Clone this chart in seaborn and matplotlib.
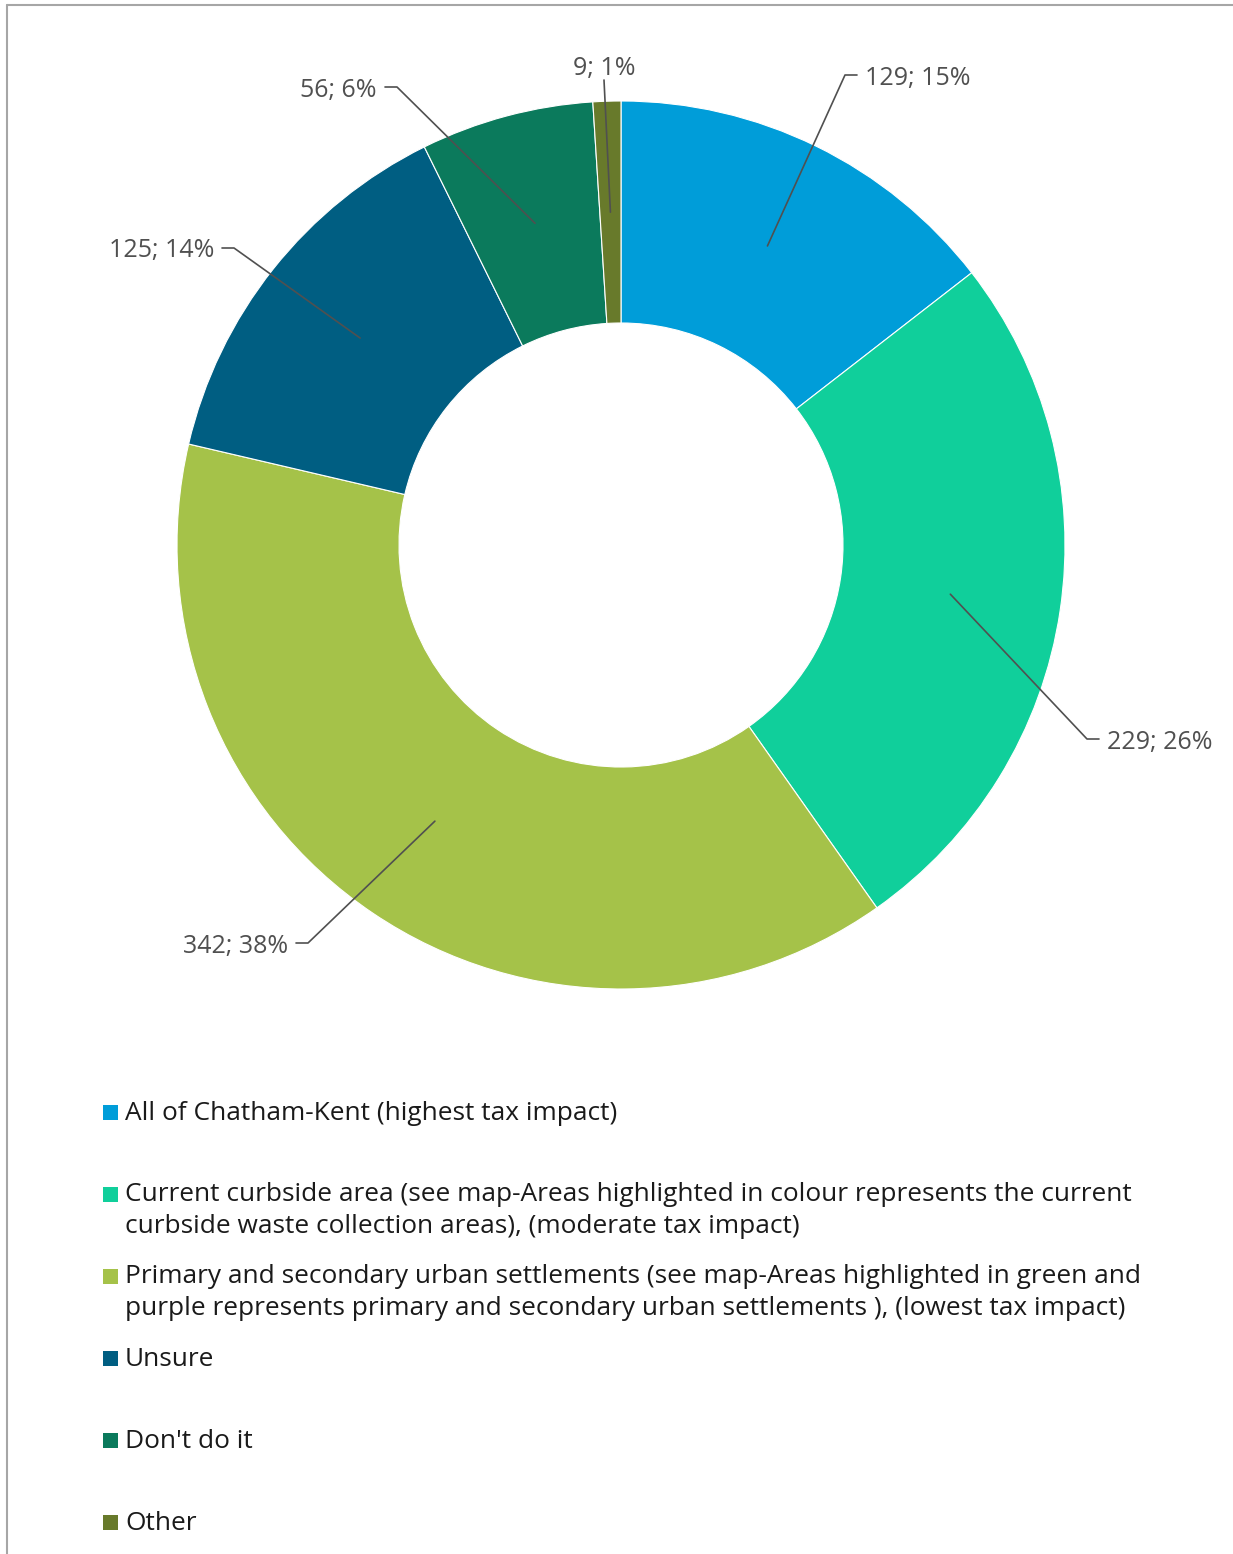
import numpy as np
import matplotlib.pyplot as plt
import seaborn as sns
from matplotlib.patches import Rectangle
from matplotlib.lines import Line2D

# Data
categories = [
    "All of Chatham-Kent (highest tax impact)",
    "Current curbside area (see map-Areas highlighted in colour represents the current\ncurbside waste collection areas), (moderate tax impact)",
    "Primary and secondary urban settlements (see map-Areas highlighted in green and\npurple represents primary and secondary urban settlements ), (lowest tax impact)",
    "Unsure",
    "Don't do it",
    "Other",
]
counts = [129, 229, 342, 125, 56, 9]
pcts = ["15%", "26%", "38%", "14%", "6%", "1%"]
colors = ["#009DD9", "#10CF9B", "#A5C249", "#005E82", "#0B7A5C", "#687A2B"]

# label elbow points (pixels, y from top) and text side
label_pos = [(845, 75, "r"), (1087, 739, "r"), (308, 943, "l"), (234, 248, "l"), (397, 87, "l"), (604, 80, "c")]

sns.set_theme(style="white")
plt.rcParams["font.family"] = ["Open Sans", "DejaVu Sans"]

W, H = 1233, 1554
fig = plt.figure(figsize=(W / 100, H / 100), dpi=100)
ax = fig.add_axes([0, 0, 1, 1])

cx, cy, R = 621, H - 545, 444
pal = sns.color_palette(colors)
wedges, _ = ax.pie(counts, colors=pal, startangle=90, counterclock=False,
                   center=(cx, cy), radius=R, frame=True,
                   wedgeprops=dict(width=R * 0.5, linewidth=0.8, edgecolor="white"))
ax.set_xlim(0, W)
ax.set_ylim(0, H)
ax.set_aspect("equal")
ax.axis("off")

txt_color = "#505050"
line_color = "#505050"
lab_fs = 18
for w, n, p, (lx, ly, side) in zip(wedges, counts, pcts, label_pos):
    ang = np.deg2rad((w.theta1 + w.theta2) / 2)
    r0 = R * 0.75
    sx, sy = cx + r0 * np.cos(ang), cy + r0 * np.sin(ang)
    ey = H - ly
    label = f"{n}; {p}"
    if side == "c":
        ax.plot([sx, lx], [sy, ey], color=line_color, lw=1.2)
        ax.text(lx, ey - 1, label, ha="center", va="bottom", fontsize=lab_fs, color=txt_color)
    elif side == "r":
        ax.plot([sx, lx, lx + 12], [sy, ey, ey], color=line_color, lw=1.2)
        ax.text(lx + 20, ey - 3, label, ha="left", va="center", fontsize=lab_fs, color=txt_color)
    else:
        ax.plot([sx, lx, lx - 12], [sy, ey, ey], color=line_color, lw=1.2)
        ax.text(lx - 20, ey - 3, label, ha="right", va="center", fontsize=lab_fs, color=txt_color)

# legend drawn manually
leg_y0, leg_step = 1112, 82
leg_fs = 18.9
for i, (lab, c) in enumerate(zip(categories, pal)):
    y = H - (leg_y0 + i * leg_step)
    ax.add_patch(Rectangle((103, y - 8), 15, 15, color=c, lw=0))
    if "\n" in lab:
        ax.text(125, y + 12, lab, ha="left", va="top", fontsize=leg_fs,
                color="#1a1a1a", linespacing=1.36)
    else:
        ax.text(125, y - 2, lab, ha="left", va="center", fontsize=leg_fs, color="#1a1a1a")

# chart frame (top and left edges visible)
fig.add_artist(Line2D([7 / W, 1], [1 - 5 / H, 1 - 5 / H], color="#A6A6A6", lw=1.5))
fig.add_artist(Line2D([7 / W, 7 / W], [0, 1 - 5 / H], color="#A6A6A6", lw=1.5))

fig.savefig("out.png", dpi=100)
